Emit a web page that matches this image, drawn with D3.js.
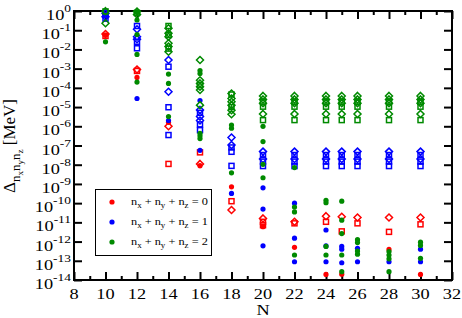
<!DOCTYPE html>
<html>
<head>
<meta charset="utf-8">
<script src="https://cdn.jsdelivr.net/npm/d3@7"></script>
<style>
body { margin: 0; background: #fff; }
text { font-family: "Liberation Serif", "Times New Roman", serif; fill: #000; }
</style>
</head>
<body>
<div id="chart-area"></div>
<script>

// Data: [N, Delta (MeV)]
let redDots = [[10, 5.6e-2], [12, 3.5e-4], [14, 1.6e-6], [16, 8.9e-9], [18, 7.1e-10], [20, 5.9e-12],
	[22, 5.0e-13], [24, 1.95e-14], [25, 2.0e-14], [28, 3.9e-13], [30, 1.95e-14]];
let redSquares = [[10, 5.0e-2], [12, 7.6e-4], [14, 1.1e-8], [16, 4.4e-8], [18, 1.26e-10], [20, 1.07e-11],
	[20, 7.1e-12], [22, 8.9e-12], [24, 1.07e-11], [25, 3.4e-12], [26, 8.9e-12], [28, 3.2e-12], [30, 7.9e-12]];
let redDiamonds = [[10, 6.3e-2], [12, 8.9e-4], [14, 1.0e-6], [16, 1.1e-8], [18, 4.4e-11], [20, 1.6e-11],
	[22, 1.07e-11], [24, 2.1e-11], [25, 1.95e-11], [26, 1.8e-11], [28, 1.8e-11], [30, 1.8e-11]];

let blueDots = [[10, 0.56], [12, 2.8e-5], [14, 2.0e-6], [16, 2.2e-5], [16, 5.6e-8], [18, 3.2e-10],
	[20, 6.3e-10], [20, 4.9e-11], [20, 6.0e-13], [22, 1.0e-10], [22, 1.5e-12], [22, 8.9e-14],
	[24, 4.0e-12], [24, 5.9e-13], [24, 8.9e-14], [25, 5.6e-13], [25, 4.0e-13], [25, 7.9e-14],
	[26, 4.5e-13], [26, 8.9e-14], [28, 8.9e-14], [30, 4.0e-13], [30, 8.9e-14]];
let blueSquares = [[10, 0.63], [10, 0.40], [12, 0.166], [12, 2.5e-2], [12, 1.15e-2], [14, 1.26e-3],
	[14, 9.8e-6], [14, 3.5e-7], [16, 5.0e-6], [16, 1.26e-6], [16, 6.3e-7], [18, 7.9e-8], [18, 4.7e-8],
	[18, 8.7e-9]];
let blueDiamonds = [[10, 0.76], [10, 0.5], [12, 0.112], [12, 4.6e-2], [12, 3.4e-2], [14, 2.8e-3],
	[14, 6.3e-5], [16, 7.1e-6], [16, 3.2e-6], [16, 2.0e-6], [18, 2.6e-7], [18, 1.05e-7]];

let greenDots = [[10, 2.5e-2], [12, 0.89], [12, 0.34], [12, 6.0e-2], [12, 5.5e-3], [12, 2.0e-4],
	[14, 5.2e-4], [14, 1.7e-4], [14, 3.2e-6], [16, 7.9e-4], [16, 5.6e-4], [16, 4.3e-7], [16, 3.2e-7],
	[16, 2.3e-7], [18, 1.15e-6], [18, 7.9e-7], [18, 3.8e-9], [20, 1.0e-6], [20, 1.6e-7], [20, 1.05e-8],
	[20, 2.1e-9], [22, 7.1e-9], [22, 6.3e-11], [22, 3.5e-11], [22, 2.0e-13], [24, 1.4e-10],
	[24, 1.05e-10], [24, 5.6e-13], [24, 2.0e-13], [25, 1.26e-10], [25, 1.3e-11], [25, 2.6e-12],
	[25, 2.0e-13], [25, 2.7e-14], [26, 1.26e-12], [26, 8.9e-13], [26, 3.2e-13], [26, 2.2e-13],
	[28, 3.0e-13], [28, 2.0e-13], [28, 1.26e-13], [28, 2.7e-14], [30, 9.3e-13], [30, 6.3e-13],
	[30, 1.35e-13]];
let greenSquares = [[10, 0.95], [12, 0.79], [14, 0.166], [14, 5.6e-2], [14, 1.1e-2], [16, 1.4e-4],
	[18, 4.5e-5], [18, 1.0e-5]];
let greenDiamonds = [[10, 0.98], [10, 0.23], [12, 0.93], [12, 0.66], [14, 0.126], [14, 6.9e-2],
	[14, 4.6e-2], [14, 2.1e-2], [14, 1.4e-2], [14, 7.6e-3], [16, 2.8e-3], [16, 2.5e-4], [16, 1.7e-4],
	[16, 1.15e-4], [16, 7.8e-5], [16, 1.26e-5], [18, 5.1e-5], [18, 2.8e-5], [18, 1.9e-5], [18, 1.26e-5],
	[18, 6.9e-6], [18, 4.2e-6]];

// the same open-symbol groups repeat for N >= 20
let clusterN = [20, 22, 24, 25, 26, 28, 30];
let clusterGreenSquares = [1.9e-5, 1.05e-5, 2.1e-6];
let clusterGreenDiamonds = [3.8e-5, 2.5e-5, 1.6e-5, 4.4e-6];
let clusterBlueSquares = [3.2e-8, 1.45e-8, 8.5e-9];
let clusterBlueDiamonds = [4.8e-8, 2.0e-8];

// axis ticks
let xMajor = [8, 10, 12, 14, 16, 18, 20, 22, 24, 26, 28, 30, 32];
let xMinor = [9, 11, 13, 15, 17, 19, 21, 23, 25, 27, 29, 31];
let yExps = [0, -1, -2, -3, -4, -5, -6, -7, -8, -9, -10, -11, -12, -13, -14];
let legendLabels = ["0", "1", "2"];

function addCluster(list, vals) {
	clusterN.forEach(function(n) {
		vals.forEach(function(v) { list.push([n, v]); });
	});
}
addCluster(greenSquares, clusterGreenSquares);
addCluster(greenDiamonds, clusterGreenDiamonds);
addCluster(blueSquares, clusterBlueSquares);
addCluster(blueDiamonds, clusterBlueDiamonds);

let red = "#ff0000", blue = "#0000ff", green = "#008a00";

let series = [
	{data: redSquares, color: red, shape: "square"},
	{data: redDiamonds, color: red, shape: "diamond"},
	{data: redDots, color: red, shape: "circle"},
	{data: blueSquares, color: blue, shape: "square"},
	{data: blueDiamonds, color: blue, shape: "diamond"},
	{data: blueDots, color: blue, shape: "circle"},
	{data: greenSquares, color: green, shape: "square"},
	{data: greenDiamonds, color: green, shape: "diamond"},
	{data: greenDots, color: green, shape: "circle"}
];

let W = 462, H = 318;
let plot = {left: 74, right: 452, top: 11, bottom: 280};

let svg = d3.select("#chart-area").append("svg")
	.attr("width", W)
	.attr("height", H);

let x = d3.scaleLinear().domain([8, 32]).range([plot.left, plot.right]);
let y = d3.scaleLog().domain([1e-14, 1]).range([plot.bottom, plot.top]);

// text looks a bit wide in the original
let stretch = 1.22;

// ticks, all pointing inward
function tickAxis(axis, tx, ty) {
	let g = svg.append("g")
		.attr("transform", "translate(" + tx + "," + ty + ")")
		.call(axis);
	g.select(".domain").remove();
	g.selectAll("line").attr("stroke", "#000").attr("stroke-width", 2);
	g.selectAll("text").remove();
}
tickAxis(d3.axisBottom(x).tickValues(xMajor).tickSize(-8), 0, plot.bottom);
tickAxis(d3.axisBottom(x).tickValues(xMinor).tickSize(-4), 0, plot.bottom);
tickAxis(d3.axisTop(x).tickValues(xMajor).tickSize(-8), 0, plot.top);
tickAxis(d3.axisTop(x).tickValues(xMinor).tickSize(-4), 0, plot.top);
tickAxis(d3.axisLeft(y).tickValues(yExps.map(e => Math.pow(10, e))).tickSize(-8), plot.left, 0);
tickAxis(d3.axisRight(y).tickValues(yExps.map(e => Math.pow(10, e))).tickSize(-8), plot.right, 0);

// frame
svg.append("rect")
	.attr("x", plot.left)
	.attr("y", plot.top)
	.attr("width", plot.right - plot.left)
	.attr("height", plot.bottom - plot.top)
	.attr("fill", "none")
	.attr("stroke", "#000")
	.attr("stroke-width", 2);

// x tick labels
svg.selectAll(".xlab")
	.data(xMajor)
	.enter()
	.append("text")
	.attr("class", "xlab")
	.attr("transform", d => "translate(" + x(d) + "," + (plot.bottom + 19) + ") scale(" + stretch + ",1)")
	.attr("text-anchor", "middle")
	.style("font-size", "15px")
	.text(d => d);

// y tick labels 10^e
let ylab = svg.selectAll(".ylab")
	.data(yExps)
	.enter()
	.append("text")
	.attr("class", "ylab")
	.attr("transform", d => "translate(" + (plot.left - 3) + "," + (y(Math.pow(10, d)) + 9) + ") scale(" + stretch + ",1)")
	.attr("text-anchor", "end")
	.style("font-size", "15px");
ylab.append("tspan").text("10");
ylab.append("tspan")
	.attr("dy", -8)
	.style("font-size", "11px")
	.text(d => d);

// axis titles
svg.append("text")
	.attr("transform", "translate(" + ((plot.left + plot.right) / 2) + ",315) scale(" + stretch + ",1)")
	.attr("text-anchor", "middle")
	.style("font-size", "15px")
	.text("N");

let yt = svg.append("text")
	.attr("transform", "translate(15,146) rotate(-90)")
	.attr("text-anchor", "middle")
	.style("font-size", "17px");
yt.append("tspan").text("\u0394");
yt.append("tspan").attr("dy", 5).style("font-size", "13px").text("n");
yt.append("tspan").attr("dy", 3).style("font-size", "9px").text("x");
yt.append("tspan").attr("dy", -3).style("font-size", "13px").text("n");
yt.append("tspan").attr("dy", 3).style("font-size", "9px").text("y");
yt.append("tspan").attr("dy", -3).style("font-size", "13px").text("n");
yt.append("tspan").attr("dy", 3).style("font-size", "9px").text("z");
yt.append("tspan").attr("dy", -8).text(" [MeV]");

// symbols
let sq = 5, dm = 3.5, rDot = 2.6;
series.forEach(function(s) {
	let g = svg.append("g");
	if (s.shape == "circle") {
		g.selectAll("circle")
			.data(s.data)
			.enter()
			.append("circle")
			.attr("cx", d => x(d[0]))
			.attr("cy", d => y(d[1]))
			.attr("r", rDot)
			.attr("fill", s.color);
	} else if (s.shape == "square") {
		g.selectAll("rect")
			.data(s.data)
			.enter()
			.append("rect")
			.attr("x", d => x(d[0]) - sq / 2)
			.attr("y", d => y(d[1]) - sq / 2)
			.attr("width", sq)
			.attr("height", sq)
			.attr("fill", "none")
			.attr("stroke", s.color)
			.attr("stroke-width", 1.5);
	} else {
		g.selectAll("path")
			.data(s.data)
			.enter()
			.append("path")
			.attr("d", function(d) {
				let cx = x(d[0]), cy = y(d[1]);
				return "M" + cx + "," + (cy - dm) + "L" + (cx + dm) + "," + cy + "L" + cx + "," + (cy + dm) + "L" + (cx - dm) + "," + cy + "Z";
			})
			.attr("fill", "none")
			.attr("stroke", s.color)
			.attr("stroke-width", 1.5);
	}
});

// legend
let legend = svg.append("g");
legend.append("rect")
	.attr("x", 95.5)
	.attr("y", 189.5)
	.attr("width", 116)
	.attr("height", 66)
	.attr("fill", "#fff")
	.attr("stroke", "#000")
	.attr("stroke-width", 1);

let legendColors = [red, blue, green];
let rows = legend.selectAll(".row")
	.data(legendLabels)
	.enter()
	.append("g")
	.attr("class", "row")
	.attr("transform", (d, i) => "translate(0," + (202 + i * 20) + ")");
rows.append("circle")
	.attr("cx", 112)
	.attr("cy", 0)
	.attr("r", rDot)
	.attr("fill", (d, i) => legendColors[i]);
let lt = rows.append("text")
	.attr("transform", "translate(131,3) scale(1.12,1)")
	.style("font-size", "11px");
lt.append("tspan").text("n");
lt.append("tspan").attr("dy", 3).style("font-size", "8px").text("x");
lt.append("tspan").attr("dy", -3).text(" + n");
lt.append("tspan").attr("dy", 3).style("font-size", "8px").text("y");
lt.append("tspan").attr("dy", -3).text(" + n");
lt.append("tspan").attr("dy", 3).style("font-size", "8px").text("z");
lt.append("tspan").attr("dy", -3).text(d => " = " + d);

</script>
</body>
</html>
